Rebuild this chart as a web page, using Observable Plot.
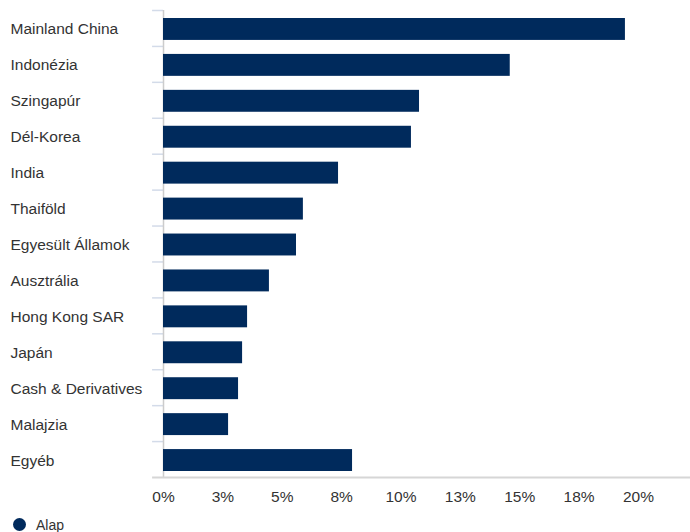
<!DOCTYPE html>
<html>
<head>
<meta charset="utf-8">
<script src="https://cdn.jsdelivr.net/npm/d3@7"></script>
<script src="https://cdn.jsdelivr.net/npm/@observablehq/plot@0.6"></script>
<style>
  html, body { margin: 0; padding: 0; background: #fff; }
  body { width: 690px; height: 532px; overflow: hidden; font-family: "Liberation Sans", Arial, sans-serif; }
  #chart svg { display: block; }
  #legend { position: relative; height: 22px; font-size: 14px; color: #333; }
  #legend .dot { position: absolute; left: 13px; top: 8px; width: 13px; height: 13px; border-radius: 50%; background: #002a5c; }
  #legend .lbl { position: absolute; left: 36px; top: 7px; }
</style>
</head>
<body>
<div id="chart"></div>
<div id="legend"><span class="dot"></span><span class="lbl">Alap</span></div>
<script>
const categories = ["Mainland China", "Indonézia", "Szingapúr", "Dél-Korea", "India", "Thaiföld", "Egyesült Államok", "Ausztrália", "Hong Kong SAR", "Japán", "Cash & Derivatives", "Malajzia", "Egyéb"];
const values = [19.45, 14.6, 10.78, 10.44, 7.37, 5.89, 5.6, 4.46, 3.54, 3.33, 3.16, 2.74, 7.96];
const xTicks = [0, 2.5, 5, 7.5, 10, 12.5, 15, 17.5, 20];
const seriesName = "Alap";

const data = categories.map((c, i) => ({category: c, value: values[i]}));
const xFmt = d => Math.round(d) + "%";

const chart = Plot.plot({
  width: 690,
  height: 510,
  marginLeft: 163,
  marginRight: 0,
  marginTop: 10,
  marginBottom: 33,
  style: {fontFamily: "'Liberation Sans', Arial, sans-serif", fontSize: "15.5px", color: "#333", background: "#fff"},
  x: {domain: [0, 22.19], ticks: xTicks, tickFormat: xFmt},
  y: {domain: categories, padding: 0, round: false},
  marks: [
    Plot.ruleY(categories, {y: d => d, dy: -17.96, x1: -0.46, x2: 0, stroke: "#d3dbe9", strokeWidth: 1.5}),
    Plot.ruleX([0], {stroke: "#cccccc", strokeWidth: 1.5}),
    Plot.ruleY([0], {y: () => categories[categories.length - 1], dy: 17.96, x1: -0.46, x2: 22.19, stroke: "#d6d6d6", strokeWidth: 2}),
    Plot.barX(data, {x: "value", y: "category", fill: "#002a5c", insetTop: 8, insetBottom: 6}),
    Plot.axisY({tickSize: 0, tickPadding: 0, textAnchor: "start", dx: -153, dy: 1, fill: "#333", fontSize: 15.5, label: null}),
    Plot.axisX({ticks: xTicks, tickFormat: xFmt, tickSize: 0, tickPadding: 13, fill: "#333", fontSize: 15.5, label: null})
  ]
});
document.getElementById("chart").appendChild(chart);
</script>
</body>
</html>
